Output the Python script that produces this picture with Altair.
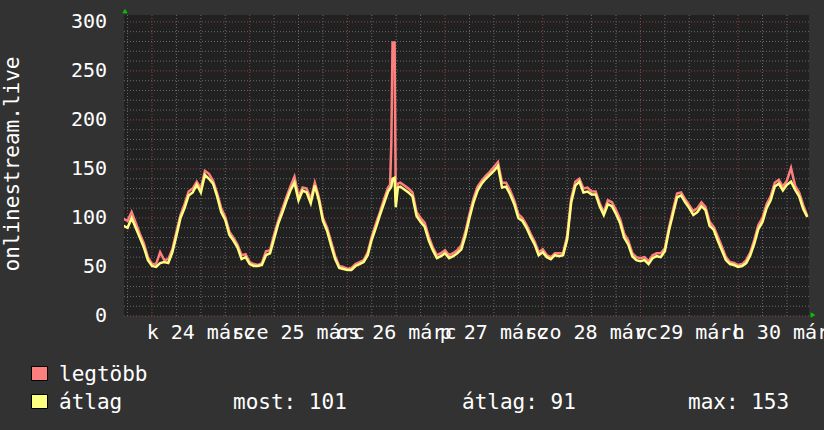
import altair as alt
import pandas as pd

# Hours relative to Tue 24 March 00:00, one sample per hour (finer around the 26th spike)
hours = [
    -7, -6, -5, -4, -3, -2, -1, 0, 1, 2, 3, 4, 5, 6, 7, 8, 9, 10, 11, 12,
    13, 14, 15, 16, 17, 18, 19, 20, 21, 22, 23, 24, 25, 26, 27, 28, 29, 30,
    31, 32, 33, 34, 35, 36, 37, 38, 39, 40, 41, 42, 43, 44, 45, 46, 47, 48,
    49, 50, 51, 52, 53, 54, 55, 56, 57, 58, 58.5, 58.8, 59.1, 59.6, 59.9, 60.4,
    61, 62, 63, 64, 65, 66, 67, 68, 69, 70, 71, 72, 73, 74, 75, 76, 77, 78,
    79, 80, 81, 82, 83, 84, 85, 86, 87, 88, 89, 90, 91, 92, 93, 94, 95, 96,
    97, 98, 99, 100, 101, 102, 103, 104, 105, 106, 107, 108, 109, 110, 111,
    112, 113, 114, 115, 116, 117, 118, 119, 120, 121, 122, 123, 124, 125, 126,
    127, 128, 129, 130, 131, 132, 133, 134, 135, 136, 137, 138, 139, 140, 141,
    142, 143, 144, 145, 146, 147, 148, 149, 150, 151, 152, 153, 154, 155, 156,
    157, 158, 159, 160, 161,
]

# "legtöbb" (maximum) series
peak = [
    99, 97, 106, 95, 84, 74, 60, 53, 53, 65, 57, 58, 68, 86, 103, 114, 127, 130, 137, 130,
    148, 145, 138, 125, 110, 101, 86, 80, 73, 62, 63, 55, 53, 52, 54, 66, 67, 83,
    97, 109, 121, 132, 142, 122, 131, 130, 119, 136, 121, 100, 90, 76, 61, 51, 50, 48,
    49, 53, 55, 57, 65, 81, 94, 106, 119, 131, 134, 177, 279, 279, 116, 135,
    136, 133, 130, 126, 106, 100, 95, 81, 70, 62, 64, 67, 62, 64, 67, 72, 86, 104,
    120, 132, 138, 143, 147, 152, 157, 136, 136, 128, 118, 104, 100, 93, 84, 76, 65, 68,
    62, 60, 64, 64, 64, 82, 120, 137, 140, 130, 131, 127, 127, 115, 106,
    118, 116, 108, 99, 84, 77, 64, 60, 59, 60, 56, 62, 64, 64, 69,
    90, 108, 125, 126, 119, 113, 107, 110, 116, 111, 96, 91, 81, 71, 60,
    55, 54, 52, 53, 57, 65, 78, 93, 100, 114, 122, 136, 139, 132, 138,
    151, 133, 126, 113, 102,
]

# "átlag" (average) series
avg = [
    92, 90, 100, 90, 80, 70, 57, 51, 50, 54, 55, 54, 65, 82, 100, 110, 123, 126, 134, 126,
    144, 140, 135, 122, 106, 98, 83, 77, 70, 58, 60, 53, 51, 51, 52, 62, 64, 79,
    94, 105, 117, 128, 136, 118, 128, 126, 115, 133, 118, 97, 87, 72, 58, 49, 48, 47,
    47, 51, 53, 55, 62, 78, 90, 103, 115, 127, 130, 132, 140, 141, 111, 131,
    132, 129, 126, 122, 102, 96, 91, 77, 67, 59, 61, 64, 59, 61, 64, 68, 82, 100,
    116, 128, 135, 140, 144, 148, 153, 131, 132, 124, 114, 100, 97, 90, 81, 73, 62, 65,
    60, 58, 62, 61, 62, 78, 116, 133, 137, 126, 127, 124, 124, 112, 103,
    114, 112, 104, 95, 80, 73, 61, 57, 56, 57, 53, 59, 61, 60, 66,
    87, 104, 121, 123, 116, 110, 103, 106, 112, 108, 92, 88, 77, 67, 57,
    53, 52, 50, 51, 54, 62, 74, 89, 96, 110, 118, 132, 135, 128, 134,
    137, 129, 122, 109, 101,
]

day_noon = [12, 36, 60, 84, 108, 132, 156]
day_labels = ["k 24 márc", "sze 25 márc", "cs 26 márc", "p 27 márc",
              "szo 28 márc", "v 29 márc", "h 30 márc"]
y_ticks = [0, 50, 100, 150, 200, 250, 300]
y_title = "onlinestream.live"

series_names = ["legtöbb", "átlag"]
stat_now, stat_mean, stat_max = 101, 91, 153

FONT = "DejaVu Sans Mono"
W, H = 685, 301
LEFT, TOP = 124, 15
RED, YELLOW = "#FF7F7F", "#FFFF7F"
WHITE = "#ffffff"

xs = alt.Scale(domain=[-6.88, 161.42], nice=False, zero=False)
ys = alt.Scale(domain=[0, 307], nice=False, zero=False)

series = pd.DataFrame({"h": hours, "peak": peak, "avg": avg})

# dotted grid: minor every 6 h / 10 units, major at midnight / every 50 units
minor_x = [h for h in range(-6, 161, 6) if h % 24 != 0]
major_x = list(range(0, 161, 24))
minor_y = [v for v in range(10, 301, 10) if v % 50 != 0]
major_y = list(range(0, 301, 50))

grid_minor = "#6a6a6a"
grid_major = "#8c4646"


def vgrid(vals, color):
    return alt.Chart(pd.DataFrame({"h": vals})).mark_rule(
        color=color, strokeWidth=1, strokeDash=[1, 2]
    ).encode(x=alt.X("h:Q", scale=xs, axis=None))


def hgrid(vals, color):
    return alt.Chart(pd.DataFrame({"v": vals})).mark_rule(
        color=color, strokeWidth=1, strokeDash=[1, 2]
    ).encode(y=alt.Y("v:Q", scale=ys, axis=None))


base = alt.Chart(series)

peak_line = base.mark_line(color=RED, strokeWidth=2.5, clip=True).encode(
    x=alt.X("h:Q", scale=xs, axis=None),
    y=alt.Y("peak:Q", scale=ys, axis=None),
)

avg_line = base.mark_line(color=YELLOW, strokeWidth=2.5, clip=True).encode(
    x=alt.X("h:Q", scale=xs, axis=None),
    y=alt.Y("avg:Q", scale=ys, axis=None),
)

# value axis labels and vertical title
y_text = alt.Chart(pd.DataFrame({"v": y_ticks})).mark_text(
    font=FONT, fontSize=20, color=WHITE, align="right", baseline="middle"
).encode(
    x=alt.value(107 - LEFT),
    y=alt.Y("v:Q", scale=ys, axis=None),
    text="v:Q",
)

title_text = alt.Chart(pd.DataFrame({"a": [0]})).mark_text(
    font=FONT, fontSize=21, color=WHITE, align="center", baseline="alphabetic", angle=270
).encode(x=alt.value(19 - LEFT), y=alt.value(164 - TOP), text=alt.value(y_title))

day_text = alt.Chart(pd.DataFrame({"h": day_noon, "label": day_labels})).mark_text(
    font=FONT, fontSize=20, color=WHITE, align="center", baseline="alphabetic"
).encode(
    x=alt.X("h:Q", scale=xs, axis=None),
    y=alt.value(339 - TOP),
    text="label:N",
)

# green axis arrows
arrows = [
    alt.Chart(pd.DataFrame({"a": [0]})).mark_point(
        shape="triangle-up", filled=True, color="#00c800", size=30, opacity=1
    ).encode(x=alt.value(125 - LEFT), y=alt.value(11 - TOP)),
    alt.Chart(pd.DataFrame({"a": [0]})).mark_point(
        shape="triangle-right", filled=True, color="#00c800", size=30, opacity=1
    ).encode(x=alt.value(813 - LEFT), y=alt.value(315 - TOP)),
]

# legend block
legend = []
for name, color, row_top, baseline in [
    (series_names[0], RED, 366, 381),
    (series_names[1], YELLOW, 394, 409),
]:
    one = pd.DataFrame({"a": [0]})
    legend.append(
        alt.Chart(one).mark_rect(color=color, stroke="#000000", strokeWidth=1).encode(
            x=alt.value(31.5 - LEFT), x2=alt.value(47.5 - LEFT),
            y=alt.value(row_top + 0.5 - TOP), y2=alt.value(row_top + 14.5 - TOP),
        )
    )
    legend.append(
        alt.Chart(one).mark_text(
            font=FONT, fontSize=21, color=WHITE, align="left", baseline="alphabetic"
        ).encode(x=alt.value(59 - LEFT), y=alt.value(baseline - TOP), text=alt.value(name))
    )

for label, px in [
    (f"most: {stat_now}", 233),
    (f"átlag: {stat_mean}", 462),
    (f"max: {stat_max}", 688),
]:
    legend.append(
        alt.Chart(pd.DataFrame({"a": [0]})).mark_text(
            font=FONT, fontSize=21, color=WHITE, align="left", baseline="alphabetic"
        ).encode(x=alt.value(px - LEFT), y=alt.value(409 - TOP), text=alt.value(label))
    )

chart = alt.layer(
    vgrid(minor_x, grid_minor),
    hgrid(minor_y, grid_minor),
    vgrid(major_x, grid_major),
    hgrid(major_y, grid_major),
    peak_line,
    avg_line,
    y_text,
    title_text,
    day_text,
    *arrows,
    *legend,
).properties(
    width=W,
    height=H,
    background="#323232",
    padding={"left": LEFT, "top": TOP, "right": 824 - LEFT - W, "bottom": 430 - TOP - H},
    autosize=alt.AutoSizeParams(type="none"),
).configure_view(
    fill="#212121", stroke=None
)

chart.save("out.html", embed_options={"renderer": "svg", "actions": False})
